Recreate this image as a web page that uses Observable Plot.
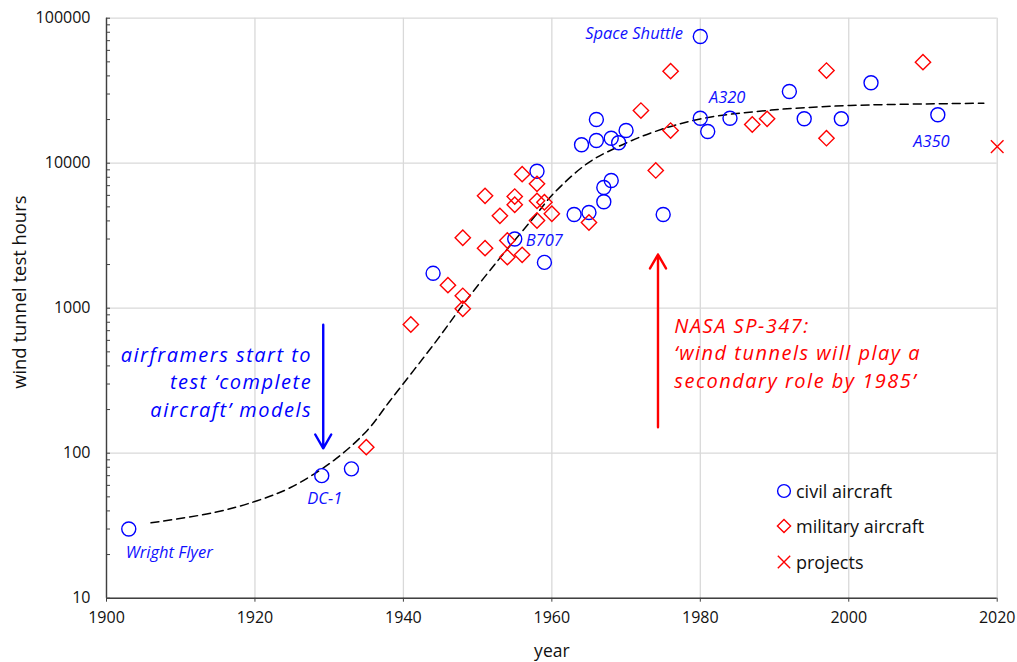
<!DOCTYPE html>
<html><head><meta charset="utf-8">
<script src="https://cdn.jsdelivr.net/npm/d3@7"></script>
<script src="https://cdn.jsdelivr.net/npm/@observablehq/plot@0.6"></script>
<style>
body{margin:0;background:#fff;font-family:"Open Sans",sans-serif;}
#wrap{position:relative;width:1017px;height:662px;}
#legend{position:absolute;left:775px;top:473px;font-size:18px;color:#111;}
#legend div{display:flex;align-items:center;height:35.5px;}
#legend svg{margin-right:3px;}
g[font-size="20"] text{letter-spacing:1.5px;}
</style></head><body><div id="wrap"></div>
<script>
// civil aircraft
const civilYear  = [1903,1929,1933,1944,1955,1958,1959,1963,1964,1965,1966,1966,1967,1967,1968,1968,1969,1970,1975,1980,1980,1981,1984,1992,1994,1999,2003,2012];
const civilHours = [30,70,78,1740,3000,8800,2070,4430,13400,4570,20000,14350,6800,5420,14870,7600,13830,16800,4430,74800,20400,16550,20400,31200,20240,20240,35840,21570];
// military aircraft
const milYear  = [1935,1941,1946,1948,1948,1948,1951,1951,1953,1954,1954,1955,1955,1956,1956,1958,1958,1958,1959,1960,1965,1972,1974,1976,1976,1987,1989,1997,1997,2010];
const milHours = [110,772,1442,3060,1218,991,5960,2594,4336,2930,2248,5890,5170,8400,2335,7210,5500,4025,5380,4480,3900,23080,8910,43100,16800,18490,20240,43560,14870,49740];
// projects
const projYear = [2020];
const projHours = [13000];
// trend curve
const trendYear  = [1906,1914.5,1920.3,1924.8,1930.6,1935.1,1938.2,1944.5,1948.1,1953.1,1957.6,1960.2,1964.7,1968.8,1973.7,1980,1989,2000.2,2018.2];
const trendHours = [33.1,39,47,58,89,143,230,600,1070,2250,4240,6150,9900,12900,16400,20200,23100,25000,25900];
// ticks
const xTicks = [1900,1920,1940,1960,1980,2000,2020];
const yMajor = [10,100,1000,10000,100000];
const yMinor = [10,20,30,40,50,60,70,80,90,100,200,300,400,500,600,700,800,900,1000,2000,3000,4000,5000,6000,7000,8000,9000,10000,20000,30000,40000,50000,60000,70000,80000,90000,100000];
// axis titles
const xTitle = "year";
const yTitle = "wind tunnel test hours";
// point labels
const labelText = ["Space Shuttle","A320","A350","B707","DC-1","Wright Flyer"];
const labelYear = [1980,1980,2012,1955,1929,1903];
const labelHours = [74800,20400,21570,3000,70,30];
// annotations
const blueNote = "airframers start to\ntest ‘complete\naircraft’ models";
const blueNoteAt = [1927.5, 317];
const blueArrow = [1929.2, 770, 1929.2, 108];
const redNote = "NASA SP-347:\n‘wind tunnels will play a\nsecondary role by 1985’";
const redNoteAt = [1976.5, 502];
const redArrow = [1974.3, 151, 1974.3, 2345];

const civil = civilYear.map((x,i)=>({x, y:civilHours[i]}));
const mil = milYear.map((x,i)=>({x, y:milHours[i]}));
const proj = projYear.map((x,i)=>({x, y:projHours[i]}));
const trend = trendYear.map((x,i)=>({x, y:trendHours[i]}));
const lab = (i, opts) => Plot.text([{x:labelYear[i], y:labelHours[i], t:labelText[i]}], {x:"x", y:"y", text:"t", fill:"#1010ff", fontStyle:"italic", fontSize:16.5, ...opts});

const chart = Plot.plot({
  width:1017, height:662,
  marginLeft:106, marginRight:20.3, marginTop:17.7, marginBottom:64.3,
  style:{fontFamily:"Open Sans", fontSize:"16px", color:"#111", background:"white", overflow:"visible"},
  x:{domain:[1900,2020]},
  y:{type:"log", domain:[10,100000]},
  marks:[
    Plot.gridX(xTicks, {stroke:"#d9d9d9", strokeOpacity:1, strokeWidth:1.3}),
    Plot.gridY(yMajor, {stroke:"#d9d9d9", strokeOpacity:1, strokeWidth:1.3}),
    Plot.ruleX([1900], {stroke:"#404040", strokeWidth:1.4}),
    Plot.ruleY([10], {stroke:"#404040", strokeWidth:1.4}),
    Plot.axisX(xTicks, {tickSize:4, tickPadding:9, stroke:"#404040", tickFormat:d=>String(d), label:null}),
    Plot.axisY(yMinor, {anchor:"left", tickSize:4, dx:4, stroke:"#404040", fill:"none", label:null}),
    Plot.axisY(yMajor, {anchor:"left", tickSize:0, tickPadding:16, tickFormat:d=>String(d), label:null}),
    Plot.text([xTitle], {frameAnchor:"bottom", text:d=>d, dy:59, fontSize:17.5, fill:"#111"}),
    Plot.text([yTitle], {frameAnchor:"left", text:d=>d, rotate:-90, textAnchor:"middle", lineAnchor:"middle", dx:-86, dy:-16, fontSize:18.4, fill:"#111"}),
    Plot.line(trend, {x:"x", y:"y", stroke:"black", strokeWidth:1.5, strokeDasharray:"8,5", curve:"catmull-rom"}),
    Plot.dot(civil, {x:"x", y:"y", symbol:"circle", r:7, stroke:"#0000ff", fill:"none", strokeWidth:1.4}),
    Plot.dot(mil, {x:"x", y:"y", symbol:"diamond2", r:6.9, stroke:"#ff0000", fill:"none", strokeWidth:1.4}),
    Plot.dot(proj, {x:"x", y:"y", symbol:"times", r:5.8, stroke:"#ff0000", strokeWidth:1.4}),
    lab(0, {textAnchor:"end", dx:-17.4, dy:-2.7}),
    lab(1, {textAnchor:"start", dx:8.6, dy:-21}),
    lab(2, {textAnchor:"middle", dx:-6.4, dy:27.4}),
    lab(3, {textAnchor:"start", dx:11, dy:1.3}),
    lab(4, {textAnchor:"middle", dx:3, dy:22.6}),
    lab(5, {textAnchor:"start", dx:-3, dy:23.4}),
    Plot.arrow([blueArrow], {x1:d=>d[0], y1:d=>d[1], x2:d=>d[2], y2:d=>d[3], stroke:"#0000ff", strokeWidth:2.4, headLength:10, headAngle:60}),
    Plot.arrow([redArrow], {x1:d=>d[0], y1:d=>d[1], x2:d=>d[2], y2:d=>d[3], stroke:"#ff0000", strokeWidth:2.4, headLength:10, headAngle:60}),
    Plot.text([blueNoteAt], {x:d=>d[0], y:d=>d[1], text:()=>blueNote, textAnchor:"end", lineAnchor:"middle", lineHeight:1.375, fontSize:20, fontStyle:"italic", fill:"#0000ff", dx:1.5}),
    Plot.text([redNoteAt], {x:d=>d[0], y:d=>d[1], text:()=>redNote, textAnchor:"start", lineAnchor:"middle", lineHeight:1.375, fontSize:20, fontStyle:"italic", fill:"#ff0000"})
  ]
});
const wrap = document.getElementById("wrap");
wrap.appendChild(chart);
const legend = document.createElement("div");
legend.id = "legend";
legend.innerHTML = `
<div><svg width="18" height="18" viewBox="-9 -9 18 18"><circle r="6.4" fill="none" stroke="#0000ff" stroke-width="1.4"/></svg>civil aircraft</div>
<div><svg width="18" height="18" viewBox="-9 -9 18 18"><path d="M0,-6.6L6.6,0L0,6.6L-6.6,0Z" fill="none" stroke="#ff0000" stroke-width="1.4"/></svg>military aircraft</div>
<div><svg width="18" height="18" viewBox="-9 -9 18 18"><path d="M-6.2,-6.2L6.2,6.2M-6.2,6.2L6.2,-6.2" fill="none" stroke="#ff0000" stroke-width="1.4"/></svg>projects</div>`;
wrap.appendChild(legend);
</script>
</body></html>
